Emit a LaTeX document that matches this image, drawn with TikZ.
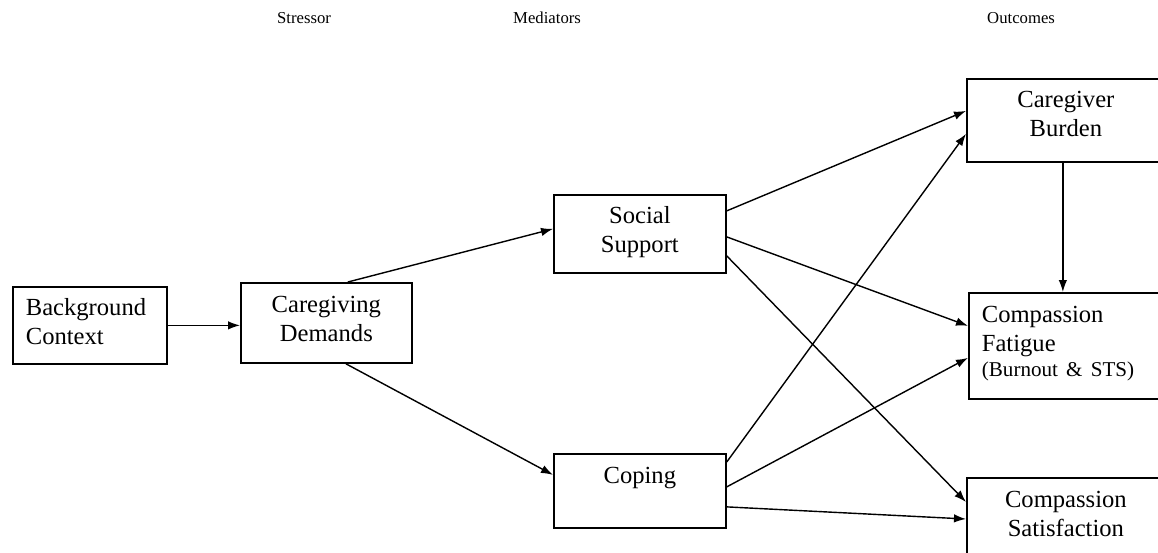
\documentclass[tikz,border=0pt]{standalone}
\usepackage{fontspec}
\setmainfont{Liberation Serif}
\usetikzlibrary{arrows.meta, positioning, calc}

\begin{document}
\begin{tikzpicture}[
    x=0.02cm, y=-0.02cm,
    box/.style={rectangle, draw, line width=1pt, anchor=north west, inner xsep=0pt, inner ysep=0pt, align=center, font=\fontsize{14}{16.5}\selectfont},
    leftbox/.style={box, inner xsep=0.26cm, align=left},
    head/.style={anchor=west, font=\fontsize{9.5}{11}\selectfont},
    arrow/.style={-{Latex[length=2.4mm, width=1.7mm]}, line width=0.8pt},
]
    \useasboundingbox (0,0) rectangle (1158,552);

    % column headings
    \node[head] (hstress) at (271,18) {Stressor};
    \node[head] (hmed) at (507,18) {Mediators};
    \node[head] (hout) at (981,18) {Outcomes};

    % boxes
    \node[leftbox, text width=2.56cm, text height=0.58cm, text depth=0.96cm] (bg) at (12,286) {Background\\Context};
    \node[box, text width=3.42cm, text height=0.6cm, text depth=1.0cm] (cd) at (240,282) {Caregiving\\Demands};
    \node[box, text width=3.44cm, text height=0.58cm, text depth=0.98cm] (ss) at (553,194) {Social\\Support};
    \node[box, text width=3.44cm, text height=0.6cm, text depth=0.88cm] (cp) at (553,453) {Coping};
    \node[box, text width=3.96cm, text height=0.58cm, text depth=1.08cm] (cb) at (966,78) {Caregiver\\Burden};
    \node[leftbox, text width=3.4cm, text height=0.6cm, text depth=1.52cm] (cf) at (968,292) {Compassion\\Fatigue\\[-2.3pt]{\fontsize{12}{14}\selectfont (Burnout \& STS)}};
    \node[box, text width=3.96cm, text height=0.6cm, text depth=2cm] (cs) at (966,477) {Compassion\\Satisfaction};

    % paths
    \draw[arrow] (bg.east) -- (bg.east -| cd.west);
    \draw[arrow] ([xshift=0.43cm]cd.north) -- ([yshift=0.1cm]ss.west);
    \draw[arrow] ([xshift=0.39cm]cd.south) -- ([yshift=0.32cm]cp.west);

    \draw[arrow] ([yshift=0.46cm]ss.east) -- ([yshift=0.19cm]cb.west);
    \draw[arrow] ([yshift=-0.06cm]ss.east) -- ([yshift=0.4cm]cf.west);
    \draw[arrow] ([yshift=-0.44cm]ss.east) -- ([yshift=-0.5cm]cs.north west);

    \draw[arrow] ([yshift=-0.18cm]cp.north east) -- ([yshift=-0.27cm]cb.west);
    \draw[arrow] ([yshift=0.08cm]cp.east) -- ([yshift=-0.24cm]cf.west);
    \draw[arrow] ([yshift=-0.32cm]cp.east) -- ([yshift=-0.84cm]cs.north west);

    \draw[arrow] ([xshift=-0.06cm]cb.south) -- ([xshift=-0.06cm]cb.south |- cf.north);
\end{tikzpicture}
\end{document}
